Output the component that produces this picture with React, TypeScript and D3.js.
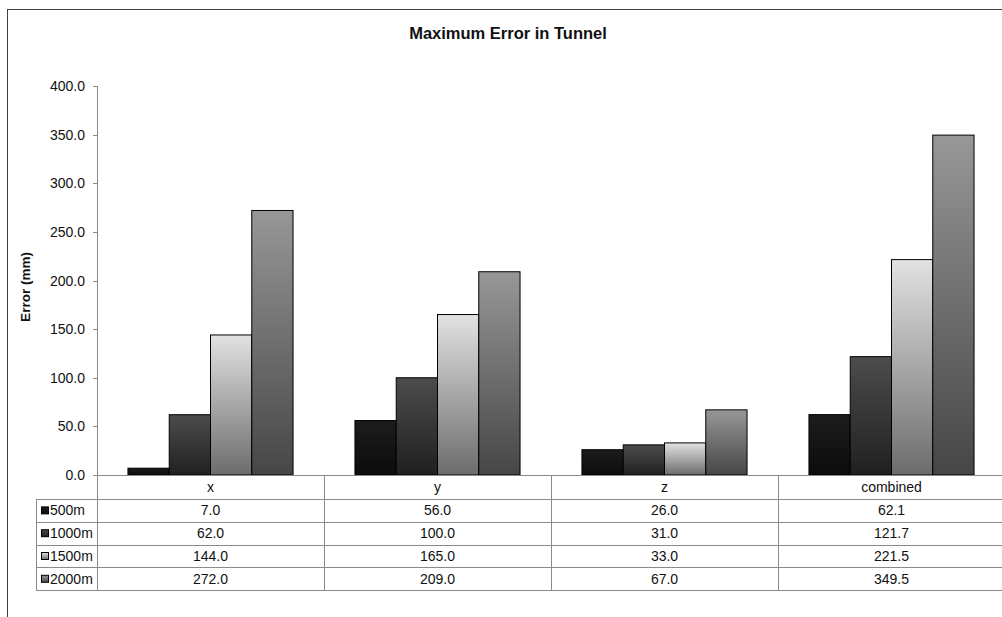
import React from "react";
import * as d3 from "d3";

const categories = ["x", "y", "z", "combined"];
const seriesNames = ["500m", "1000m", "1500m", "2000m"];
const values500 = [7.0, 56.0, 26.0, 62.1];
const values1000 = [62.0, 100.0, 31.0, 121.7];
const values1500 = [144.0, 165.0, 33.0, 221.5];
const values2000 = [272.0, 209.0, 67.0, 349.5];
const yTicks = [0, 50, 100, 150, 200, 250, 300, 350, 400];

const seriesValues = [values500, values1000, values1500, values2000];
const gradients = [
  ["#1c1c1c", "#0c0c0c"],
  ["#4c4c4c", "#202020"],
  ["#e2e2e2", "#6c6c6c"],
  ["#979797", "#464646"],
];

const W = 1002;
const H = 617;
const plotLeft = 97;
const plotRight = 1005;
const plotTop = 86;
const plotBottom = 475;
const legendLeft = 36;
const headerH = 24;
const rowH = 22.8;
const font = "'Liberation Sans', Arial, sans-serif";
const fs = 14;

export default function App() {
  const x = d3.scaleBand<string>().domain(categories).range([plotLeft, plotRight]);
  const bw = x.bandwidth() / 5.5;
  const y = d3.scaleLinear().domain([0, 400]).range([plotBottom, plotTop]);
  const tableBottom = plotBottom + headerH + rowH * seriesNames.length;
  const gridColor = "#8a8a8a";
  const textColor = "#111";

  return (
    <svg
      width={W}
      height={H}
      style={{ position: "absolute", left: 0, top: 0, background: "#fff" }}
      fontFamily={font}
    >
      <defs>
        {gradients.map((g, i) => (
          <linearGradient key={i} id={`g${i}`} x1="0" y1="0" x2="0" y2="1">
            <stop offset="0" stopColor={g[0]} />
            <stop offset="1" stopColor={g[1]} />
          </linearGradient>
        ))}
      </defs>
      <rect x={0} y={0} width={W} height={H} fill="#fff" />
      <rect x={7.5} y={9.5} width={1100} height={800} fill="none" stroke="#404040" strokeWidth={1} />

      <text x={508} y={39} textAnchor="middle" fontSize={16.5} fontWeight="bold" fill={textColor}>
        Maximum Error in Tunnel
      </text>

      <text
        transform={`translate(30,287) rotate(-90)`}
        textAnchor="middle"
        fontSize={13.5}
        fontWeight="bold"
        fill={textColor}
      >
        Error (mm)
      </text>

      {/* y axis */}
      <line x1={plotLeft + 0.5} x2={plotLeft + 0.5} y1={plotTop} y2={tableBottom} stroke={gridColor} />
      {yTicks.map((t) => (
        <g key={t}>
          <line x1={plotLeft - 4} x2={plotLeft} y1={Math.round(y(t)) + 0.5} y2={Math.round(y(t)) + 0.5} stroke={gridColor} />
          <text x={85} y={y(t) + 5} textAnchor="end" fontSize={fs} fill={textColor}>
            {d3.format(".1f")(t)}
          </text>
        </g>
      ))}

      {/* bars */}
      {seriesValues.map((vals, si) =>
        vals.map((v, ci) => {
          const x0 = (x(categories[ci]) as number) + bw * 0.75 + si * bw;
          return (
            <rect
              key={`${si}-${ci}`}
              x={x0}
              y={y(v)}
              width={bw}
              height={plotBottom - y(v)}
              fill={`url(#g${si})`}
              stroke="#000"
              strokeWidth={1}
            />
          );
        })
      )}

      {/* table */}
      <line x1={plotLeft - 4} x2={plotRight} y1={plotBottom + 0.5} y2={plotBottom + 0.5} stroke={gridColor} />
      {categories.map((c, ci) => (
        <g key={c}>
          <line
            x1={Math.round((x(c) as number) + x.bandwidth()) + 0.5}
            x2={Math.round((x(c) as number) + x.bandwidth()) + 0.5}
            y1={plotBottom}
            y2={tableBottom}
            stroke={gridColor}
          />
          <text
            x={(x(c) as number) + x.bandwidth() / 2}
            y={plotBottom + headerH / 2 + 5}
            textAnchor="middle"
            fontSize={fs}
            fill={textColor}
          >
            {c}
          </text>
          {seriesValues.map((vals, si) => (
            <text
              key={si}
              x={(x(c) as number) + x.bandwidth() / 2}
              y={plotBottom + headerH + rowH * si + rowH / 2 + 5}
              textAnchor="middle"
              fontSize={fs}
              fill={textColor}
            >
              {d3.format(".1f")(vals[ci])}
            </text>
          ))}
        </g>
      ))}
      <line x1={legendLeft + 0.5} x2={legendLeft + 0.5} y1={plotBottom + headerH} y2={tableBottom} stroke={gridColor} />
      {d3.range(seriesNames.length + 1).map((i) => (
        <line
          key={i}
          x1={legendLeft}
          x2={plotRight}
          y1={Math.round(plotBottom + headerH + rowH * i) + 0.5}
          y2={Math.round(plotBottom + headerH + rowH * i) + 0.5}
          stroke={gridColor}
        />
      ))}
      {seriesNames.map((s, si) => {
        const cy = plotBottom + headerH + rowH * si + rowH / 2;
        return (
          <g key={s}>
            <rect x={41.5} y={cy - 3.5} width={7} height={7} fill={`url(#g${si})`} stroke="#000" strokeWidth={1} />
            <text x={50} y={cy + 5} fontSize={fs} fill={textColor}>
              {s}
            </text>
          </g>
        );
      })}
    </svg>
  );
}
